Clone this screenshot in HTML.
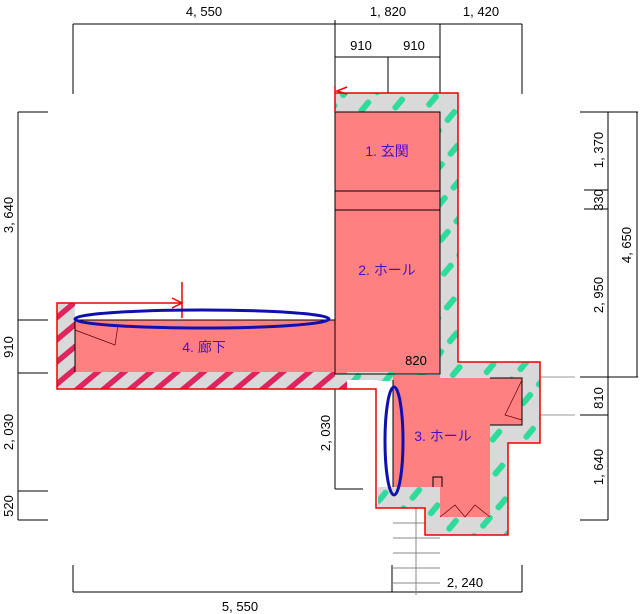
<!DOCTYPE html>
<html><head><meta charset="utf-8"><style>
html,body{margin:0;padding:0;background:#fff;}
svg{display:block;}
text{font-family:"Liberation Sans","Noto Sans CJK JP",sans-serif;}
</style></head><body>
<svg width="640" height="614" viewBox="0 0 640 614" xmlns="http://www.w3.org/2000/svg">
<defs>
<pattern id="gh" patternUnits="userSpaceOnUse" width="24" height="24" patternTransform="rotate(-50)">
<rect width="24" height="24" fill="#d9d9d9"/><rect x="1" y="9" width="16" height="6" rx="2.5" fill="#2edb9a"/>
</pattern>
<pattern id="rh" patternUnits="userSpaceOnUse" width="17" height="17" patternTransform="rotate(-40)">
<rect width="17" height="17" fill="#d9d9d9"/><rect x="0" y="5" width="17" height="5.5" fill="#e0245e"/>
</pattern>
</defs>
<g stroke="#000" stroke-width="1" fill="none">
<line x1="73" y1="24" x2="522" y2="24"/>
<line x1="73" y1="24" x2="73" y2="94"/><line x1="335" y1="20" x2="335" y2="94"/>
<line x1="440" y1="24" x2="440" y2="94"/><line x1="522" y1="24" x2="522" y2="94"/>
<line x1="335" y1="57" x2="440" y2="57"/><line x1="388" y1="57" x2="388" y2="94"/>
<line x1="18" y1="112" x2="18" y2="520"/>
<line x1="18" y1="112" x2="48" y2="112"/><line x1="18" y1="320" x2="48" y2="320"/>
<line x1="18" y1="373" x2="48" y2="373"/><line x1="18" y1="491" x2="48" y2="491"/>
<line x1="18" y1="520" x2="48" y2="520"/>
<line x1="608" y1="112" x2="608" y2="520"/>
<line x1="580" y1="112" x2="638" y2="112"/><line x1="584" y1="190" x2="608" y2="190"/>
<line x1="584" y1="209" x2="608" y2="209"/><line x1="580" y1="377" x2="638" y2="377"/>
<line x1="580" y1="415" x2="608" y2="415"/><line x1="580" y1="520" x2="608" y2="520"/>
<line x1="637" y1="112" x2="637" y2="377"/>
<line x1="540" y1="377" x2="575" y2="377" stroke="#999"/><line x1="540" y1="415" x2="575" y2="415" stroke="#999"/>
<line x1="335" y1="378" x2="335" y2="489"/><line x1="335" y1="489" x2="363" y2="489"/>
<line x1="73" y1="592" x2="522" y2="592"/>
<line x1="73" y1="565" x2="73" y2="592"/><line x1="392" y1="565" x2="392" y2="592"/>
<line x1="522" y1="565" x2="522" y2="592"/>
</g>
<g stroke="#888" stroke-width="1">
<line x1="416" y1="505" x2="416" y2="595"/>
<line x1="393" y1="508" x2="440" y2="508"/><line x1="393" y1="523" x2="440" y2="523"/>
<line x1="393" y1="538" x2="440" y2="538"/><line x1="393" y1="553" x2="440" y2="553"/>
<line x1="393" y1="568" x2="440" y2="568"/><line x1="393" y1="583" x2="440" y2="583"/>
</g>
<path d="M57 303 H75 V372 H335 V320 H347 V389 H57 Z" fill="url(#rh)"/>
<rect x="75" y="320" width="260" height="52" fill="#ff8080"/>
<line x1="75" y1="320" x2="75" y2="372" stroke="#000"/>
<line x1="75" y1="320" x2="335" y2="320" stroke="#000"/>
<rect x="335" y="93" width="123" height="285" fill="url(#gh)"/>
<rect x="335" y="112" width="105" height="262" fill="#ff8080"/>
<rect x="347" y="372" width="46" height="8" fill="url(#gh)"/>
<g stroke="#000" fill="none">
<rect x="335" y="112" width="105" height="262"/>
<line x1="335" y1="191" x2="440" y2="191"/><line x1="335" y1="210" x2="440" y2="210"/>
</g>
<path d="M458 362 H540 V443 H508 V535 H425 V508 H378 V380 H458 Z" fill="url(#gh)"/>
<rect x="377" y="381" width="16" height="106" fill="#fff"/>
<path d="M393 378 H522 V425 H490 V517 H440 V487 H393 Z" fill="#ff8080"/>
<rect x="393" y="375" width="47" height="6" fill="#ff8080"/>
<g stroke="#000" fill="none" stroke-width="1">
<path d="M490 378 H522 V425 H490"/>
<line x1="393" y1="380" x2="393" y2="487"/>
<path d="M440 517 L455 505 L465 517 L475 505 L490 517" stroke="#600" stroke-width="0.7"/>
<path d="M522 380 L505 415 L522 420" stroke="#600" stroke-width="0.7"/>
<path d="M75 330 L115 345 L118 325" stroke="#600" stroke-width="0.7"/>
<path d="M433 487 V477 H442 V487"/>
</g>
<path d="M335 93 H458 V362 H540 V443 H508 V535 H425 V508 H376 V389 H57 V303 H182" fill="none" stroke="#e00" stroke-width="1.5"/>
<path d="M335 86 V112" stroke="#e00" stroke-width="1.5"/>
<path d="M347 87 L337 91 L347 94" stroke="#e00" fill="none" stroke-width="1.5"/>
<path d="M182 282 V318 M172 298 L182 303 L172 308" stroke="#e00" fill="none" stroke-width="1.5"/>
<ellipse cx="202" cy="319" rx="127" ry="9" fill="none" stroke="#1010b0" stroke-width="3"/>
<ellipse cx="394" cy="441" rx="9" ry="54" fill="none" stroke="#1010b0" stroke-width="3"/>
<g font-size="14" fill="#4a10c0" text-anchor="middle">
<text x="387" y="156">1. 玄関</text>
<text x="387" y="275">2. ホール</text>
<text x="443" y="441">3. ホール</text>
<text x="204" y="352">4. 廊下</text>
</g>
<g font-size="13" fill="#000" text-anchor="middle">
<text x="204" y="16">4, 550</text>
<text x="388" y="16">1, 820</text>
<text x="481" y="16">1, 420</text>
<text x="361" y="50">910</text>
<text x="414" y="50">910</text>
<text x="416" y="365">820</text>
<text x="465" y="587">2, 240</text>
<text x="240" y="611">5, 550</text>
<text transform="translate(13,215) rotate(-90)">3, 640</text>
<text transform="translate(13,347) rotate(-90)">910</text>
<text transform="translate(13,432) rotate(-90)">2, 030</text>
<text transform="translate(13,506) rotate(-90)">520</text>
<text transform="translate(330,433) rotate(-90)">2, 030</text>
<text transform="translate(603,150) rotate(-90)">1, 370</text>
<text transform="translate(603,200) rotate(-90)">330</text>
<text transform="translate(603,295) rotate(-90)">2, 950</text>
<text transform="translate(631,245) rotate(-90)">4, 650</text>
<text transform="translate(603,398) rotate(-90)">810</text>
<text transform="translate(603,467) rotate(-90)">1, 640</text>
</g>
</svg>
</body></html>
